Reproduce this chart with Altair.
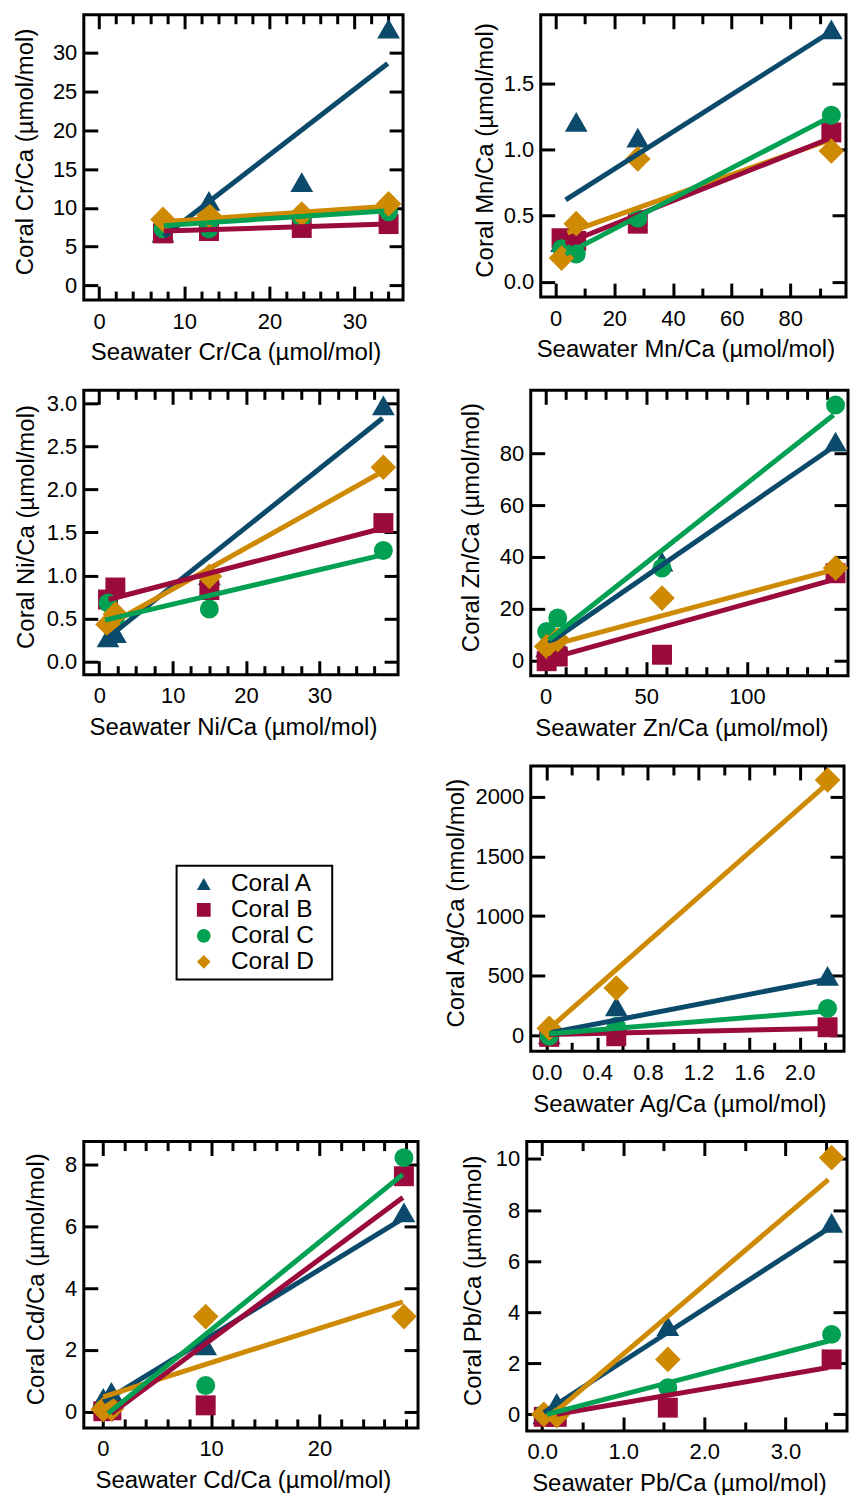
import altair as alt
import pandas as pd

CORALS = ["Coral A", "Coral B", "Coral C", "Coral D"]
COLORS = ["#0b4a6b", "#9a0a3c", "#02a052", "#cf8a04"]
SHAPES = ["triangle-up", "square", "circle", "diamond"]
SIZES = [520, 400, 361, 660]
LINE_ORDER = ["Coral A", "Coral D", "Coral B", "Coral C"]

# ---- Cr/Ca (umol/mol) ----
cr_sea = [7.5, 12.9, 23.8, 34.0]
cr_A = [6.8, 10.9, 13.3, 33.1]
cr_B = [6.7, 7.0, 7.4, 7.9]
cr_C = [7.3, 7.3, 8.6, 9.5]
cr_D = [8.5, 9.0, 9.2, 10.5]
cr_fit_x0 = [7.6, 7.6, 7.6, 7.6]
cr_fit_y0 = [6.3, 7.0, 7.7, 8.2]
cr_fit_x1 = [33.9, 33.9, 33.5, 33.9]
cr_fit_y1 = [28.6, 7.9, 9.6, 10.2]

# ---- Mn/Ca ----
mn_sea = [2, 7, 28, 94]
mn_A = [0.30, 1.21, 1.09, 1.91]
mn_B = [0.33, 0.31, 0.44, 1.13]
mn_C = [0.25, 0.21, 0.48, 1.26]
mn_D = [0.18, 0.44, 0.93, 0.99]
mn_fit_x0 = [3.4, 3.4, 3.4, 4.0]
mn_fit_y0 = [0.62, 0.29, 0.21, 0.37]
mn_fit_x1 = [93, 93, 93, 93]
mn_fit_y1 = [1.88, 1.08, 1.24, 1.07]

# ---- Ni/Ca ----
ni_sea = [1.2, 2.2, 15, 38.7]
ni_A = [0.28, 0.33, 1.0, 2.98]
ni_B = [0.72, 0.86, 0.83, 1.61]
ni_C = [0.68, 0.5, 0.61, 1.29]
ni_D = [0.43, 0.55, 0.99, 2.26]
ni_fit_x0 = [0.8, 1.3, 0.8, 0.8]
ni_fit_y0 = [0.25, 0.72, 0.48, 0.40]
ni_fit_x1 = [38.6, 38.6, 38.6, 38.6]
ni_fit_y1 = [2.83, 1.55, 1.24, 2.21]

# ---- Zn/Ca ----
zn_sea = [0.5, 6.0, 57.8, 144]
zn_A = [5, 7, 38.2, 84.6]
zn_B = [-0.3, 1.5, 2.2, 33.7]
zn_C = [11.2, 16.4, 35.7, 98.7]
zn_D = [5.4, 8.0, 24.1, 35.7]
zn_fit_x0 = [1.6, 1.0, 1.6, 0.8]
zn_fit_y0 = [6.7, 0.5, 8.0, 5.4]
zn_fit_x1 = [143, 143, 143, 143]
zn_fit_y1 = [82.6, 31.2, 94.9, 35.0]

# ---- Ag/Ca (coral in nmol/mol) ----
ag_sea = [0.02, 0.55, 2.22]
ag_A = [10, 245, 500]
ag_B = [-10, -5, 70]
ag_C = [-5, 78, 228]
ag_D = [62, 398, 2139]
ag_fit_x0 = [0.02, 0.02, 0.02, 0.0]
ag_fit_y0 = [22, 10, 15, 40]
ag_fit_x1 = [2.21, 2.21, 2.21, 2.21]
ag_fit_y1 = [470, 60, 205, 2100]

# ---- Cd/Ca ----
cd_sea = [0.05, 0.8, 9.5, 27.8]
cd_A = [0.45, 0.65, 2.15, 6.45]
cd_B = [0.02, 0.05, 0.21, 7.62]
cd_C = [0.1, 0.1, 0.85, 8.22]
cd_D = [0.08, 0.1, 3.08, 3.08]
cd_fit_x0 = [0.06, 0.8, 0.5, 0.06]
cd_fit_y0 = [0.32, -0.05, -0.05, 0.48]
cd_fit_x1 = [27.7, 27.7, 27.7, 27.7]
cd_fit_y1 = [6.25, 6.93, 7.68, 3.56]

# ---- Pb/Ca ----
pb_sea = [0.02, 0.18, 1.55, 3.57]
pb_A = [0.0, 0.45, 3.45, 7.5]
pb_B = [-0.1, -0.1, 0.26, 2.15]
pb_C = [0.0, 0.0, 1.04, 3.13]
pb_D = [0.0, -0.05, 2.15, 10.05]
pb_fit_x0 = [0.02, 0.18, 0.06, 0.10]
pb_fit_y0 = [0.07, 0.0, 0.0, -0.07]
pb_fit_x1 = [3.52, 3.53, 3.53, 3.53]
pb_fit_y1 = [7.25, 1.83, 2.87, 9.19]


def points_df(sea, series):
    rows = []
    for coral, vals in zip(CORALS, series):
        for x, y in zip(sea, vals):
            rows.append({"coral": coral, "x": x, "y": y})
    return pd.DataFrame(rows)


def fits_df(x0, y0, x1, y1):
    rows = []
    for i, coral in enumerate(CORALS):
        rows.append({"coral": coral, "x": x0[i], "y": y0[i]})
        rows.append({"coral": coral, "x": x1[i], "y": y1[i]})
    return pd.DataFrame(rows)


MAJ = 14
MIN = 9
PAD_L = 80   # uniform left extent of every row (keeps frames aligned)
PAD_B = 75   # uniform bottom extent
PAD_T = 8    # uniform top extent


def tick_axis(orient, values, size):
    return alt.Axis(orient=orient, values=values, ticks=True, tickSize=size,
                    tickWidth=3, tickColor="black", labels=False, domain=False,
                    title=None, offset=-size, grid=False)


def extent_axis(orient, values, size):
    # invisible ticks that only reserve a fixed extent for the layout
    return alt.Axis(orient=orient, values=values, ticks=True, tickSize=size,
                    tickOpacity=0, labels=False, domain=False, title=None, grid=False)


LEGEND = alt.Legend(title=None, labelExpr="datum.label + '\u00a0\u2009\u200b'")


def panel(pts, fits, xdom, ydom, w, h, xtitle, ytitle, xmaj, xmin, ymaj,
          xfmt, yfmt, ytx, show_legend=False):
    xs = alt.Scale(domain=xdom, nice=False, zero=False)
    ys = alt.Scale(domain=ydom, nice=False, zero=False)
    cscale = alt.Scale(domain=CORALS, range=COLORS)
    sscale = alt.Scale(domain=CORALS, range=SHAPES)
    leg = LEGEND if show_legend else None
    layers = []
    for i, coral in enumerate(CORALS):
        if i == 0:
            xa = alt.Axis(orient="bottom", values=xmaj, format=xfmt, ticks=False, domain=False,
                          title=xtitle, labelPadding=11, titleX=w / 2 - 8, titleY=60,
                          titleBaseline="alphabetic")
            ya = alt.Axis(orient="left", values=ymaj, format=yfmt, ticks=False, domain=False,
                          title=ytitle, labelPadding=7, titleX=ytx, titleY=h / 2 - 6,
                          titleBaseline="alphabetic")
        else:
            xa = None
            ya = None
        layers.append(
            alt.Chart(pts).transform_filter(alt.datum.coral == coral)
            .mark_point(filled=True, opacity=1, strokeWidth=0, size=SIZES[i])
            .encode(
                x=alt.X("x:Q", scale=xs, axis=xa),
                y=alt.Y("y:Q", scale=ys, axis=ya),
                color=alt.Color("coral:N", scale=cscale, legend=leg),
                shape=alt.Shape("coral:N", scale=sscale, legend=leg),
            )
        )
    for coral in LINE_ORDER:
        layers.append(
            alt.Chart(fits).transform_filter(alt.datum.coral == coral)
            .mark_line(strokeWidth=5, strokeCap="butt")
            .encode(
                x=alt.X("x:Q", scale=xs, axis=None),
                y=alt.Y("y:Q", scale=ys, axis=None),
                color=alt.Color("coral:N", scale=cscale, legend=None),
            )
        )
    hosts = [
        (tick_axis("bottom", xmaj, MAJ), tick_axis("left", ymaj, MAJ)),
        (tick_axis("bottom", xmin, MIN), tick_axis("right", ymaj, MAJ)),
        (tick_axis("top", xmaj, MAJ), extent_axis("left", ymaj[:1], PAD_L)),
        (tick_axis("top", xmin, MIN), None),
        (extent_axis("bottom", xmaj[:1], PAD_B), None),
        (extent_axis("top", xmaj[:1], PAD_T), None),
    ]
    for xa, ya in hosts:
        layers.append(
            alt.Chart(fits).mark_point(opacity=0).encode(
                x=alt.X("x:Q", scale=xs, axis=xa),
                y=alt.Y("y:Q", scale=ys, axis=ya),
            )
        )
    return alt.layer(*layers).resolve_axis(x="independent", y="independent").properties(
        width=w, height=h)


def minor(lo, hi, step, majors):
    vals = []
    v = lo
    while v <= hi + 1e-9:
        if all(abs(v - m) > 1e-9 for m in majors):
            vals.append(round(v, 4))
        v += step
    return vals


cr_xmaj = [0, 10, 20, 30]
p_cr = panel(points_df(cr_sea, [cr_A, cr_B, cr_C, cr_D]),
             fits_df(cr_fit_x0, cr_fit_y0, cr_fit_x1, cr_fit_y1),
             [-1.8, 35.7], [-1.9, 34.9], 320, 286,
             "Seawater Cr/Ca (µmol/mol)", "Coral Cr/Ca (µmol/mol)",
             cr_xmaj, minor(0, 34, 2, cr_xmaj), [0, 5, 10, 15, 20, 25, 30], "d", "d",
             -51, show_legend=True)

mn_xmaj = [0, 20, 40, 60, 80]
p_mn = panel(points_df(mn_sea, [mn_A, mn_B, mn_C, mn_D]),
             fits_df(mn_fit_x0, mn_fit_y0, mn_fit_x1, mn_fit_y1),
             [-5.1, 99], [-0.115, 2.02], 306, 283,
             "Seawater Mn/Ca (µmol/mol)", "Coral Mn/Ca (µmol/mol)",
             mn_xmaj, minor(0, 90, 10, mn_xmaj), [0, 0.5, 1.0, 1.5], "d", ".1f", -48)

ni_xmaj = [0, 10, 20, 30]
p_ni = panel(points_df(ni_sea, [ni_A, ni_B, ni_C, ni_D]),
             fits_df(ni_fit_x0, ni_fit_y0, ni_fit_x1, ni_fit_y1),
             [-2.1, 40.7], [-0.155, 3.155], 315, 285,
             "Seawater Ni/Ca (µmol/mol)", "Coral Ni/Ca (µmol/mol)",
             ni_xmaj, minor(0, 37.5, 2.5, ni_xmaj), [0, 0.5, 1.0, 1.5, 2.0, 2.5, 3.0], "d", ".1f",
             -50)

zn_xmaj = [0, 50, 100]
p_zn = panel(points_df(zn_sea, [zn_A, zn_B, zn_C, zn_D]),
             fits_df(zn_fit_x0, zn_fit_y0, zn_fit_x1, zn_fit_y1),
             [-7.4, 150.2], [-5.9, 104.4], 318, 286,
             "Seawater Zn/Ca (µmol/mol)", "Coral Zn/Ca (µmol/mol)",
             zn_xmaj, minor(0, 140, 10, zn_xmaj), [0, 20, 40, 60, 80], "d", "d", -52)

ag_xmaj = [0, 0.4, 0.8, 1.2, 1.6, 2.0]
p_ag = panel(points_df(ag_sea, [ag_A, ag_B, ag_C, ag_D]),
             fits_df(ag_fit_x0, ag_fit_y0, ag_fit_x1, ag_fit_y1),
             [-0.126, 2.35], [-131, 2256], 314, 286,
             "Seawater Ag/Ca (µmol/mol)", "Coral Ag/Ca (nmol/mol)",
             ag_xmaj, minor(0, 2.2, 0.2, ag_xmaj), [0, 500, 1000, 1500, 2000], ".1f", "d", -67)

cd_xmaj = [0, 10, 20]
p_cd = panel(points_df(cd_sea, [cd_A, cd_B, cd_C, cd_D]),
             fits_df(cd_fit_x0, cd_fit_y0, cd_fit_x1, cd_fit_y1),
             [-1.75, 29.1], [-0.52, 8.74], 335, 287,
             "Seawater Cd/Ca (µmol/mol)", "Coral Cd/Ca (µmol/mol)",
             cd_xmaj, minor(0, 28, 2, cd_xmaj), [0, 2, 4, 6, 8], "d", "d", -40)

pb_xmaj = [0, 1, 2, 3]
p_pb = panel(points_df(pb_sea, [pb_A, pb_B, pb_C, pb_D]),
             fits_df(pb_fit_x0, pb_fit_y0, pb_fit_x1, pb_fit_y1),
             [-0.19, 3.76], [-0.65, 10.68], 321, 290,
             "Seawater Pb/Ca (µmol/mol)", "Coral Pb/Ca (µmol/mol)",
             pb_xmaj, minor(0, 3.5, 0.5, pb_xmaj), [0, 2, 4, 6, 8, 10], ".1f", "d", -46)

spacer = alt.Chart(pd.DataFrame({"v": [0]})).mark_point(opacity=0).encode(
    x=alt.X("v:Q", axis=None),
    y=alt.Y("v:Q", axis=extent_axis("left", [0], PAD_L)),
).properties(width=300, height=286, view=alt.ViewBackground(stroke="transparent"))

row1 = alt.hconcat(p_cr, p_mn, spacing=138, bounds="flush")
row2 = alt.hconcat(p_ni, p_zn, spacing=133, bounds="flush")
row3 = alt.hconcat(spacer, p_ag, spacing=148, bounds="flush")
row4 = alt.hconcat(p_cd, p_pb, spacing=109, bounds="flush")

chart = alt.vconcat(row1, row2, row3, row4, spacing=3.5, bounds="full").properties(
    padding={"left": 2, "top": 3, "right": 0, "bottom": 0}
).configure_view(
    stroke="black", strokeWidth=3
).configure_axis(
    labelFont="Liberation Sans", labelFontSize=22, labelColor="black",
    titleFont="Liberation Sans", titleFontSize=24, titleFontWeight="normal",
    titleColor="black", grid=False
).configure_legend(
    orient="none", legendX=93, legendY=853,
    labelFont="Liberation Sans", labelFontSize=24.5, labelColor="black",
    symbolSize=190, symbolStrokeWidth=0, symbolOffset=9, labelOffset=15,
    rowPadding=1, padding=6, strokeColor="black", strokeWidth=2,
    fillColor="white", cornerRadius=0
)

chart.save("out.html", embed_options={"renderer": "svg", "actions": False})
